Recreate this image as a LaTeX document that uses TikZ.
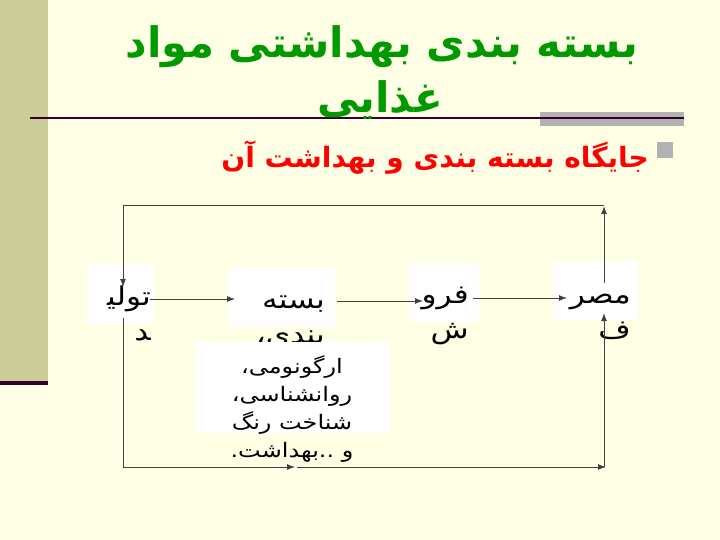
\documentclass[tikz,border=0pt]{standalone}
\usepackage{fontspec}
\newfontfamily\fa[Script=Arabic]{DejaVu Sans}
\newfontfamily\faw[Script=Arabic,FakeStretch=1.2]{DejaVu Sans}
\TeXXeTstate=1
\usetikzlibrary{arrows.meta}
\definecolor{bgc}{RGB}{255,255,229}
\definecolor{olivebar}{RGB}{204,204,153}
\definecolor{darkl}{RGB}{51,0,51}
\definecolor{grayb}{RGB}{178,178,178}
\definecolor{titlegreen}{RGB}{0,153,0}
\definecolor{subred}{RGB}{255,0,0}
\definecolor{linec}{RGB}{64,64,64}
\begin{document}
\begin{tikzpicture}[x=1pt,y=-1pt,
  wbox/.style={fill=white, draw=none, inner sep=0},
  lbl/.style={font=\faw\fontsize{26}{35}\selectfont, align=right, inner sep=0},
  ergo/.style={font=\faw\fontsize{20}{28}\selectfont, align=center, inner sep=0},
  conn/.style={draw=linec, line width=1pt, -{Latex[length=8pt,width=6pt]}},
  plainline/.style={draw=linec, line width=1pt},
  titlestyle/.style={font=\fa\bfseries\fontsize{42}{48}\selectfont, text=titlegreen, inner sep=0},
  substyle/.style={font=\fa\bfseries\fontsize{28}{33}\selectfont, text=subred, inner sep=0}]
\useasboundingbox (0,0) rectangle (720,540);
\fill[bgc] (0,0) rectangle (720,540);
\fill[olivebar] (0,0) rectangle (48,381);
\fill[darkl] (0,381) rectangle (48,385);
\fill[grayb] (540,112) rectangle (684,126);
\draw[darkl, line width=1.2pt] (30,118) -- (684,118);

% title
\node[titlestyle, anchor=base] (t1) at (382,58) {\beginR بسته بندی بهداشتی مواد\endR};
\node[titlestyle, anchor=base] (t2) at (380,113) {\beginR غذایی\endR};

% subtitle with bullet
\node[fill=grayb, minimum size=16, inner sep=0] (bullet) at (665,150) {};
\node[substyle, anchor=base east] (sub) at (649,168) {\beginR جایگاه بسته بندی و بهداشت آن\endR};

% boxes
\node[wbox, minimum width=66, minimum height=60] (tolidbox) at (121,294) {};
\node[wbox, minimum width=107, minimum height=59] (bastebox) at (281.5,297.5) {};
\node[wbox, minimum width=70, minimum height=59] (forushbox) at (444,292.5) {};
\node[wbox, minimum width=85, minimum height=58] (masrafbox) at (595,291) {};

% box texts
\node[lbl, anchor=base east] (tolid) at (151,340) {\beginR تولی‍\endR\\\beginR ‍د\endR};
\node[lbl, anchor=base east] (baste) at (325,343) {\beginR بسته\endR\\\beginR بندی،\endR};
\node[lbl, anchor=base east] (forush) at (469,338) {\beginR فرو\endR\\\beginR ش\endR};
\node[lbl, anchor=base east] (masraf) at (631,338) {\beginR مصر\endR\\\beginR ف\endR};

% ergonomics box
\node[wbox, minimum width=195, minimum height=91] (ergobox) at (292,387) {};
\node[ergo, anchor=base] (ergotext) at (292,457) {\beginR ارگونومی،\endR\\\beginR روانشناسی،\endR\\\beginR شناخت رنگ\endR\\\beginR و ..بهداشت.\endR};

% connector coordinates
\coordinate (tl) at (123,206);
\coordinate (tr) at (604,206);
\coordinate (tolidtop) at (123,287);
\coordinate (masraftop) at (604,283);
\coordinate (tolidout) at (150,299);
\coordinate (bastein) at (235,299);
\coordinate (basteout) at (337,301);
\coordinate (forushin) at (423,301);
\coordinate (forushout) at (473,298);
\coordinate (masrafin) at (567,298);
\coordinate (tolidbot) at (123,318);
\coordinate (bl) at (123,467);
\coordinate (bm) at (295,467);
\coordinate (bm2) at (297,467);
\coordinate (br) at (606,467);
\coordinate (brv) at (604,467);
\coordinate (masrafbot) at (604,313);

% connectors
\draw[plainline] (tl) -- (tr);
\draw[conn] (tl) -- (tolidtop);
\draw[conn] (masraftop) -- (tr);
\draw[conn] (tolidout) -- (bastein);
\draw[conn] (basteout) -- (forushin);
\draw[conn] (forushout) -- (masrafin);
\draw[plainline] (tolidbot) -- (bl);
\draw[conn] (bl) -- (bm);
\draw[conn] (bm2) -- (br);
\draw[conn] (brv) -- (masrafbot);
\end{tikzpicture}
\end{document}
